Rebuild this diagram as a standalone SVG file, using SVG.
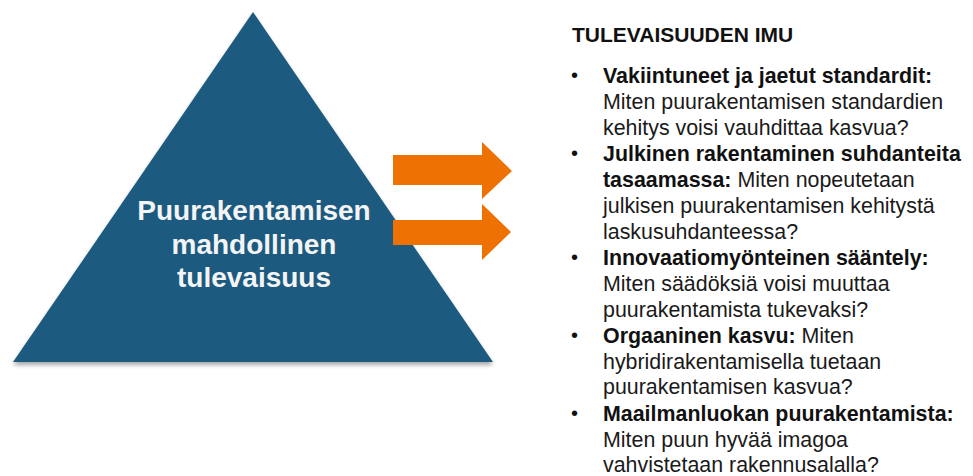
<svg xmlns="http://www.w3.org/2000/svg" width="973" height="476" viewBox="0 0 973 476">
<style>
.tri{fill:#1e5a7f}
.tt{font-family:"Liberation Sans",Arial,sans-serif;font-weight:bold;font-size:28px;fill:#f4f4f4;text-anchor:middle}
.arr{fill:#ee7203}
.h{font-family:"Liberation Sans",Arial,sans-serif;font-weight:bold;font-size:21px;fill:#111}
.b{font-family:"Liberation Sans",Arial,sans-serif;font-size:21.4px;fill:#1a1a1a}
.b tspan.k{font-weight:bold;fill:#111}
.dot{font-family:"Liberation Sans",Arial,sans-serif;font-size:20px;fill:#111}
</style>
<defs>
<filter id="sh" x="-10%" y="-10%" width="120%" height="130%">
<feGaussianBlur in="SourceAlpha" stdDeviation="2"/>
<feOffset dy="3" result="o"/>
<feComponentTransfer><feFuncA type="linear" slope="0.35"/></feComponentTransfer>
<feMerge><feMergeNode/><feMergeNode in="SourceGraphic"/></feMerge>
</filter>
</defs>
<rect width="973" height="476" fill="#ffffff"/>
<g id="pyramid">
<polygon class="tri" filter="url(#sh)" points="253,12 493,362 13,362"/>
<text class="tt" x="254" y="220">Puurakentamisen</text>
<text class="tt" x="254" y="254">mahdollinen</text>
<text class="tt" x="254" y="287">tulevaisuus</text>
</g>
<g id="connectors">
<polygon class="arr" points="393,155 482,155 482,142 512,171 482,199 482,185 393,185"/>
<polygon class="arr" points="393,220 482,220 482,204 511,232 482,260 482,245 393,245"/>
</g>
<g id="list">
<text class="h" x="572" y="42">TULEVAISUUDEN IMU</text>
<text class="dot" x="571" y="82">•</text>
<text class="b" x="603" y="83"><tspan class="k">Vakiintuneet ja jaetut standardit:</tspan></text>
<text class="b" x="603" y="109">Miten puurakentamisen standardien</text>
<text class="b" x="603" y="135">kehitys voisi vauhdittaa kasvua?</text>
<text class="dot" x="571" y="160">•</text>
<text class="b" x="603" y="161"><tspan class="k">Julkinen rakentaminen suhdanteita</tspan></text>
<text class="b" x="603" y="187"><tspan class="k">tasaamassa:</tspan> Miten nopeutetaan</text>
<text class="b" x="603" y="213">julkisen puurakentamisen kehitystä</text>
<text class="b" x="603" y="239">laskusuhdanteessa?</text>
<text class="dot" x="571" y="264">•</text>
<text class="b" x="603" y="265"><tspan class="k">Innovaatiomyönteinen sääntely:</tspan></text>
<text class="b" x="603" y="291">Miten säädöksiä voisi muuttaa</text>
<text class="b" x="603" y="317">puurakentamista tukevaksi?</text>
<text class="dot" x="571" y="342">•</text>
<text class="b" x="603" y="343"><tspan class="k">Orgaaninen kasvu:</tspan> Miten</text>
<text class="b" x="603" y="369">hybridirakentamisella tuetaan</text>
<text class="b" x="603" y="394">puurakentamisen kasvua?</text>
<text class="dot" x="571" y="420">•</text>
<text class="b" x="603" y="421"><tspan class="k">Maailmanluokan puurakentamista:</tspan></text>
<text class="b" x="603" y="447">Miten puun hyvää imagoa</text>
<text class="b" x="603" y="472">vahvistetaan rakennusalalla?</text>
</g>
</svg>
